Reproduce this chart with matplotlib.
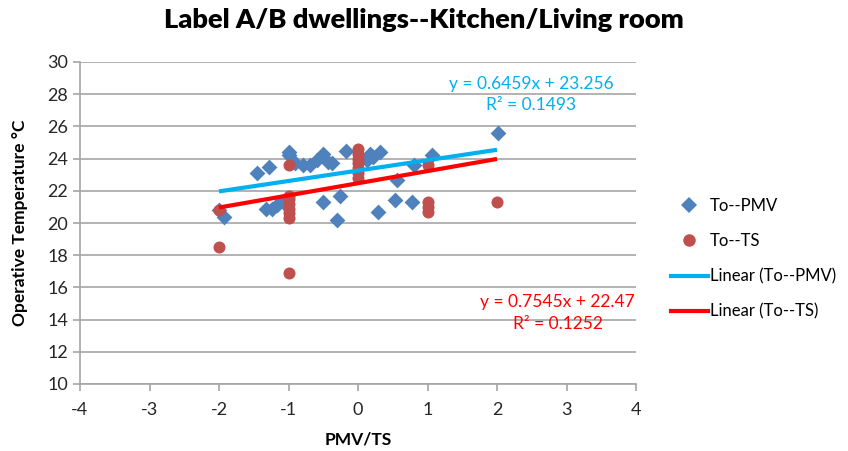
import matplotlib
matplotlib.use("Agg")
import matplotlib.pyplot as plt
import numpy as np
from matplotlib.lines import Line2D

plt.rcParams['font.family'] = ['Lato', 'DejaVu Sans']

# Data
pmv_x = [-2.0, -1.93, -1.45, -1.28, -1.32, -1.24, -1.17, -1.08, -1.0, -1.0, -0.9, -0.79,
         -0.69, -0.59, -0.5, -0.43, -0.37, -0.5, -0.26, -0.3, -0.17, 0.13, 0.17, 0.22,
         0.32, 0.29, 0.53, 0.56, 0.78, 0.8, 1.06, 2.01]
pmv_y = [20.8, 20.4, 23.1, 23.5, 20.9, 20.9, 21.1, 21.3, 24.4, 24.2, 23.7, 23.6,
         23.6, 23.9, 24.3, 23.8, 23.7, 21.3, 21.7, 20.2, 24.5, 23.9, 24.3, 24.1,
         24.4, 20.7, 21.4, 22.7, 21.3, 23.6, 24.2, 25.6]

ts_x = [-2, -2, -1, -1, -1, -1, -1, -1, -1, -1,
        0, 0, 0, 0, 0, 0, 0, 1, 1, 1, 1, 2]
ts_y = [20.8, 18.5, 23.6, 21.7, 21.5, 21.2, 20.9, 20.6, 20.3, 16.9,
        24.6, 24.3, 24.0, 23.7, 23.4, 23.1, 22.8, 23.6, 21.3, 21.0, 20.7, 21.3]

# Trendline coefficients (from the chart labels)
pmv_fit = (0.6459, 23.256, 0.1493)
ts_fit = (0.7545, 22.47, 0.1252)
fit_range = [-2, 2]

x_ticks = [-4, -3, -2, -1, 0, 1, 2, 3, 4]
y_ticks = [10, 12, 14, 16, 18, 20, 22, 24, 26, 28, 30]

blue = '#4F81BD'
red = '#C0504D'
cyan = '#00B0F0'
bright_red = '#FF0000'
grid_col = '#A6A6A6'

fig = plt.figure(figsize=(8.48, 4.51), dpi=100)
ax = fig.add_axes([80/848, 1-384/451, (636-80)/848, (384-62)/451])

ax.scatter(pmv_x, pmv_y, marker='D', s=65, color=blue, zorder=3, linewidths=0)
ax.scatter(ts_x, ts_y, marker='o', s=75, color=red, zorder=3, linewidths=0)

xr = np.array(fit_range, dtype=float)
ax.plot(xr, pmv_fit[0]*xr + pmv_fit[1], color=cyan, lw=3, zorder=4, solid_capstyle='butt')
ax.plot(xr, ts_fit[0]*xr + ts_fit[1], color=bright_red, lw=3, zorder=4, solid_capstyle='butt')

ax.set_xlim(-4, 4)
ax.set_ylim(10, 30)
ax.set_xticks(x_ticks)
ax.set_yticks(y_ticks)
ax.set_xticklabels([str(t) for t in x_ticks])
ax.set_yticklabels([str(t) for t in y_ticks])
ax.yaxis.grid(True, color=grid_col, lw=1.2)
ax.set_axisbelow(True)
for s in ['top', 'right']:
    ax.spines[s].set_visible(False)
for s in ['left', 'bottom']:
    ax.spines[s].set_color(grid_col)
    ax.spines[s].set_linewidth(1.2)
ax.tick_params(axis='both', colors=grid_col, length=5, width=1.2, labelsize=13,
               labelcolor='#262626')
ax.tick_params(axis='x', pad=8)

ax.set_xlabel('PMV/TS', fontsize=12.5, fontweight='bold', labelpad=10)
ax.set_ylabel('Operative Temperature °C', fontsize=12.5, fontweight='bold', labelpad=14)

fig.text(0.5, 1-20/451, 'Label A/B dwellings--Kitchen/Living room', ha='center', va='center',
         fontsize=19.6, fontweight='heavy')

ax.text(2.49, 27.98, f'y = {pmv_fit[0]}x + {pmv_fit[1]}\nR² = {pmv_fit[2]}', color=cyan,
        fontsize=12.5, ha='center', va='center', multialignment='center', linespacing=1.4)
ax.text(2.87, 14.41, f'y = {ts_fit[0]}x + {ts_fit[1]}\nR² = {ts_fit[2]}', color=bright_red,
        fontsize=12.5, ha='center', va='center', multialignment='center', linespacing=1.4)

handles = [
    Line2D([], [], marker='D', color=blue, ls='none', markersize=8, markeredgewidth=0),
    Line2D([], [], marker='o', color=red, ls='none', markersize=9, markeredgewidth=0),
    Line2D([], [], color=cyan, lw=3),
    Line2D([], [], color=bright_red, lw=3),
]
labels = ['To--PMV', 'To--TS', 'Linear (To--PMV)', 'Linear (To--TS)']
fig.legend(handles, labels, loc='center left', bbox_to_anchor=(671/848, 1-259/451),
           frameon=False, fontsize=12, handlelength=2.2, handletextpad=0.15,
           labelspacing=1.15, borderpad=0, borderaxespad=0)

fig.savefig('out.png', dpi=100)
